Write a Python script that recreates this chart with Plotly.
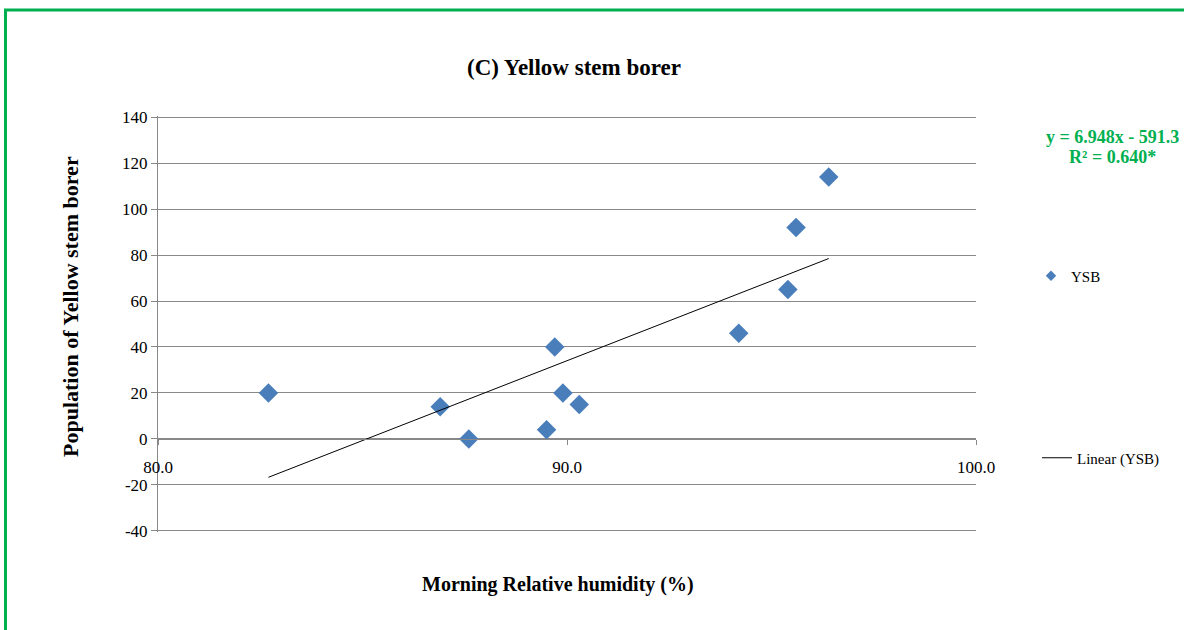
import plotly.graph_objects as go

# Morning relative humidity (%) vs. yellow stem borer population
humidity = [82.7, 86.9, 87.6, 89.5, 89.7, 89.9, 90.3, 94.2, 95.4, 95.6, 96.4]
ysb_count = [20, 14, 0, 4, 40, 20, 15, 46, 65, 92, 114]

# Fitted linear trend reported on the chart
slope = 6.948
intercept = -591.3
r_squared = "0.640*"

x_ticks = [80, 90, 100]
y_ticks = [-40, -20, 0, 20, 40, 60, 80, 100, 120, 140]
y_tick_text = [str(v) for v in y_ticks]

SERIF = "Liberation Serif, Times New Roman, serif"
BLUE = "#4A7EBB"
GREEN = "#00B050"
GRID = "#888888"

W, H = 1184, 630
L, R, T, B = 158, 208, 116, 98
PW, PH = W - L - R, H - T - B


def px(xp):
    return (xp - L) / PW


def py(yp):
    return (H - B - yp) / PH


# small pad so the outermost gridlines are kept
pad = 0.5
y_lo, y_hi = y_ticks[0] - pad, y_ticks[-1] + pad

trend_x = [min(humidity), max(humidity)]
trend_y = [slope * v + intercept for v in trend_x]

fig = go.Figure()
fig.add_trace(go.Scatter(
    x=humidity, y=ysb_count, mode="markers", name="YSB",
    marker=dict(symbol="diamond", size=15, color=BLUE, line=dict(width=0)),
    showlegend=False,
))
# legend entry with a smaller swatch
fig.add_trace(go.Scatter(
    x=[None], y=[None], mode="markers", name="YSB",
    marker=dict(symbol="diamond", size=8, color=BLUE, line=dict(width=0)),
    legend="legend",
))
fig.add_trace(go.Scatter(
    x=trend_x, y=trend_y, mode="lines", name="Linear (YSB)",
    line=dict(color="black", width=1),
    legend="legend2",
))

fig.update_layout(
    width=W, height=H,
    margin=dict(l=L, r=R, t=T, b=B),
    paper_bgcolor="white", plot_bgcolor="white",
    font=dict(family=SERIF, size=17, color="black"),
    xaxis=dict(
        range=[80, 100], tickvals=x_ticks, tickformat=".1f",
        anchor="free", position=(0 - y_lo) / (y_hi - y_lo),
        showline=True, linecolor=GRID, linewidth=1,
        ticks="outside", ticklen=5, tickcolor=GRID,
        ticklabelstandoff=8,
        showgrid=False, zeroline=False,
    ),
    yaxis=dict(
        range=[y_lo, y_hi], tickvals=y_ticks, ticktext=y_tick_text,
        showline=True, linecolor=GRID, linewidth=1,
        ticks="outside", ticklen=6, tickcolor=GRID,
        showgrid=True, gridcolor=GRID, gridwidth=1,
        zeroline=False,
    ),
    legend=dict(
        x=px(1031), y=py(276), xanchor="left", yanchor="middle",
        font=dict(family=SERIF, size=15), bgcolor="rgba(0,0,0,0)",
    ),
    legend2=dict(
        x=px(1037), y=py(458), xanchor="left", yanchor="middle",
        font=dict(family=SERIF, size=15), bgcolor="rgba(0,0,0,0)",
    ),
    showlegend=True,
)

# Green frame around the figure
fig.add_shape(
    type="rect", xref="paper", yref="paper",
    x0=px(5.5), x1=px(1230), y0=py(680), y1=py(10),
    line=dict(color=GREEN, width=3), fillcolor="rgba(0,0,0,0)", layer="below",
)


def label(text, x, y, size, color="black", angle=0):
    fig.add_annotation(
        text=text, xref="paper", yref="paper", x=px(x), y=py(y),
        xanchor="center", yanchor="middle", showarrow=False, textangle=angle,
        font=dict(family=SERIF, size=size, color=color),
    )


# Title and axis titles
label("<b>(C) Yellow stem borer</b>", 574, 67, 23)
label("<b>Population of Yellow stem borer</b>", 70, 307, 22, angle=-90)
label("<b>Morning Relative humidity (%)</b>", 558, 584, 20)

# Regression equation
label(f"<b>y = {slope:.3f}x - {abs(intercept):.1f}</b>", 1112, 137, 18, GREEN)
label(f"<b>R² = {r_squared}</b>", 1112, 157, 18, GREEN)

fig.write_html("out.html")
